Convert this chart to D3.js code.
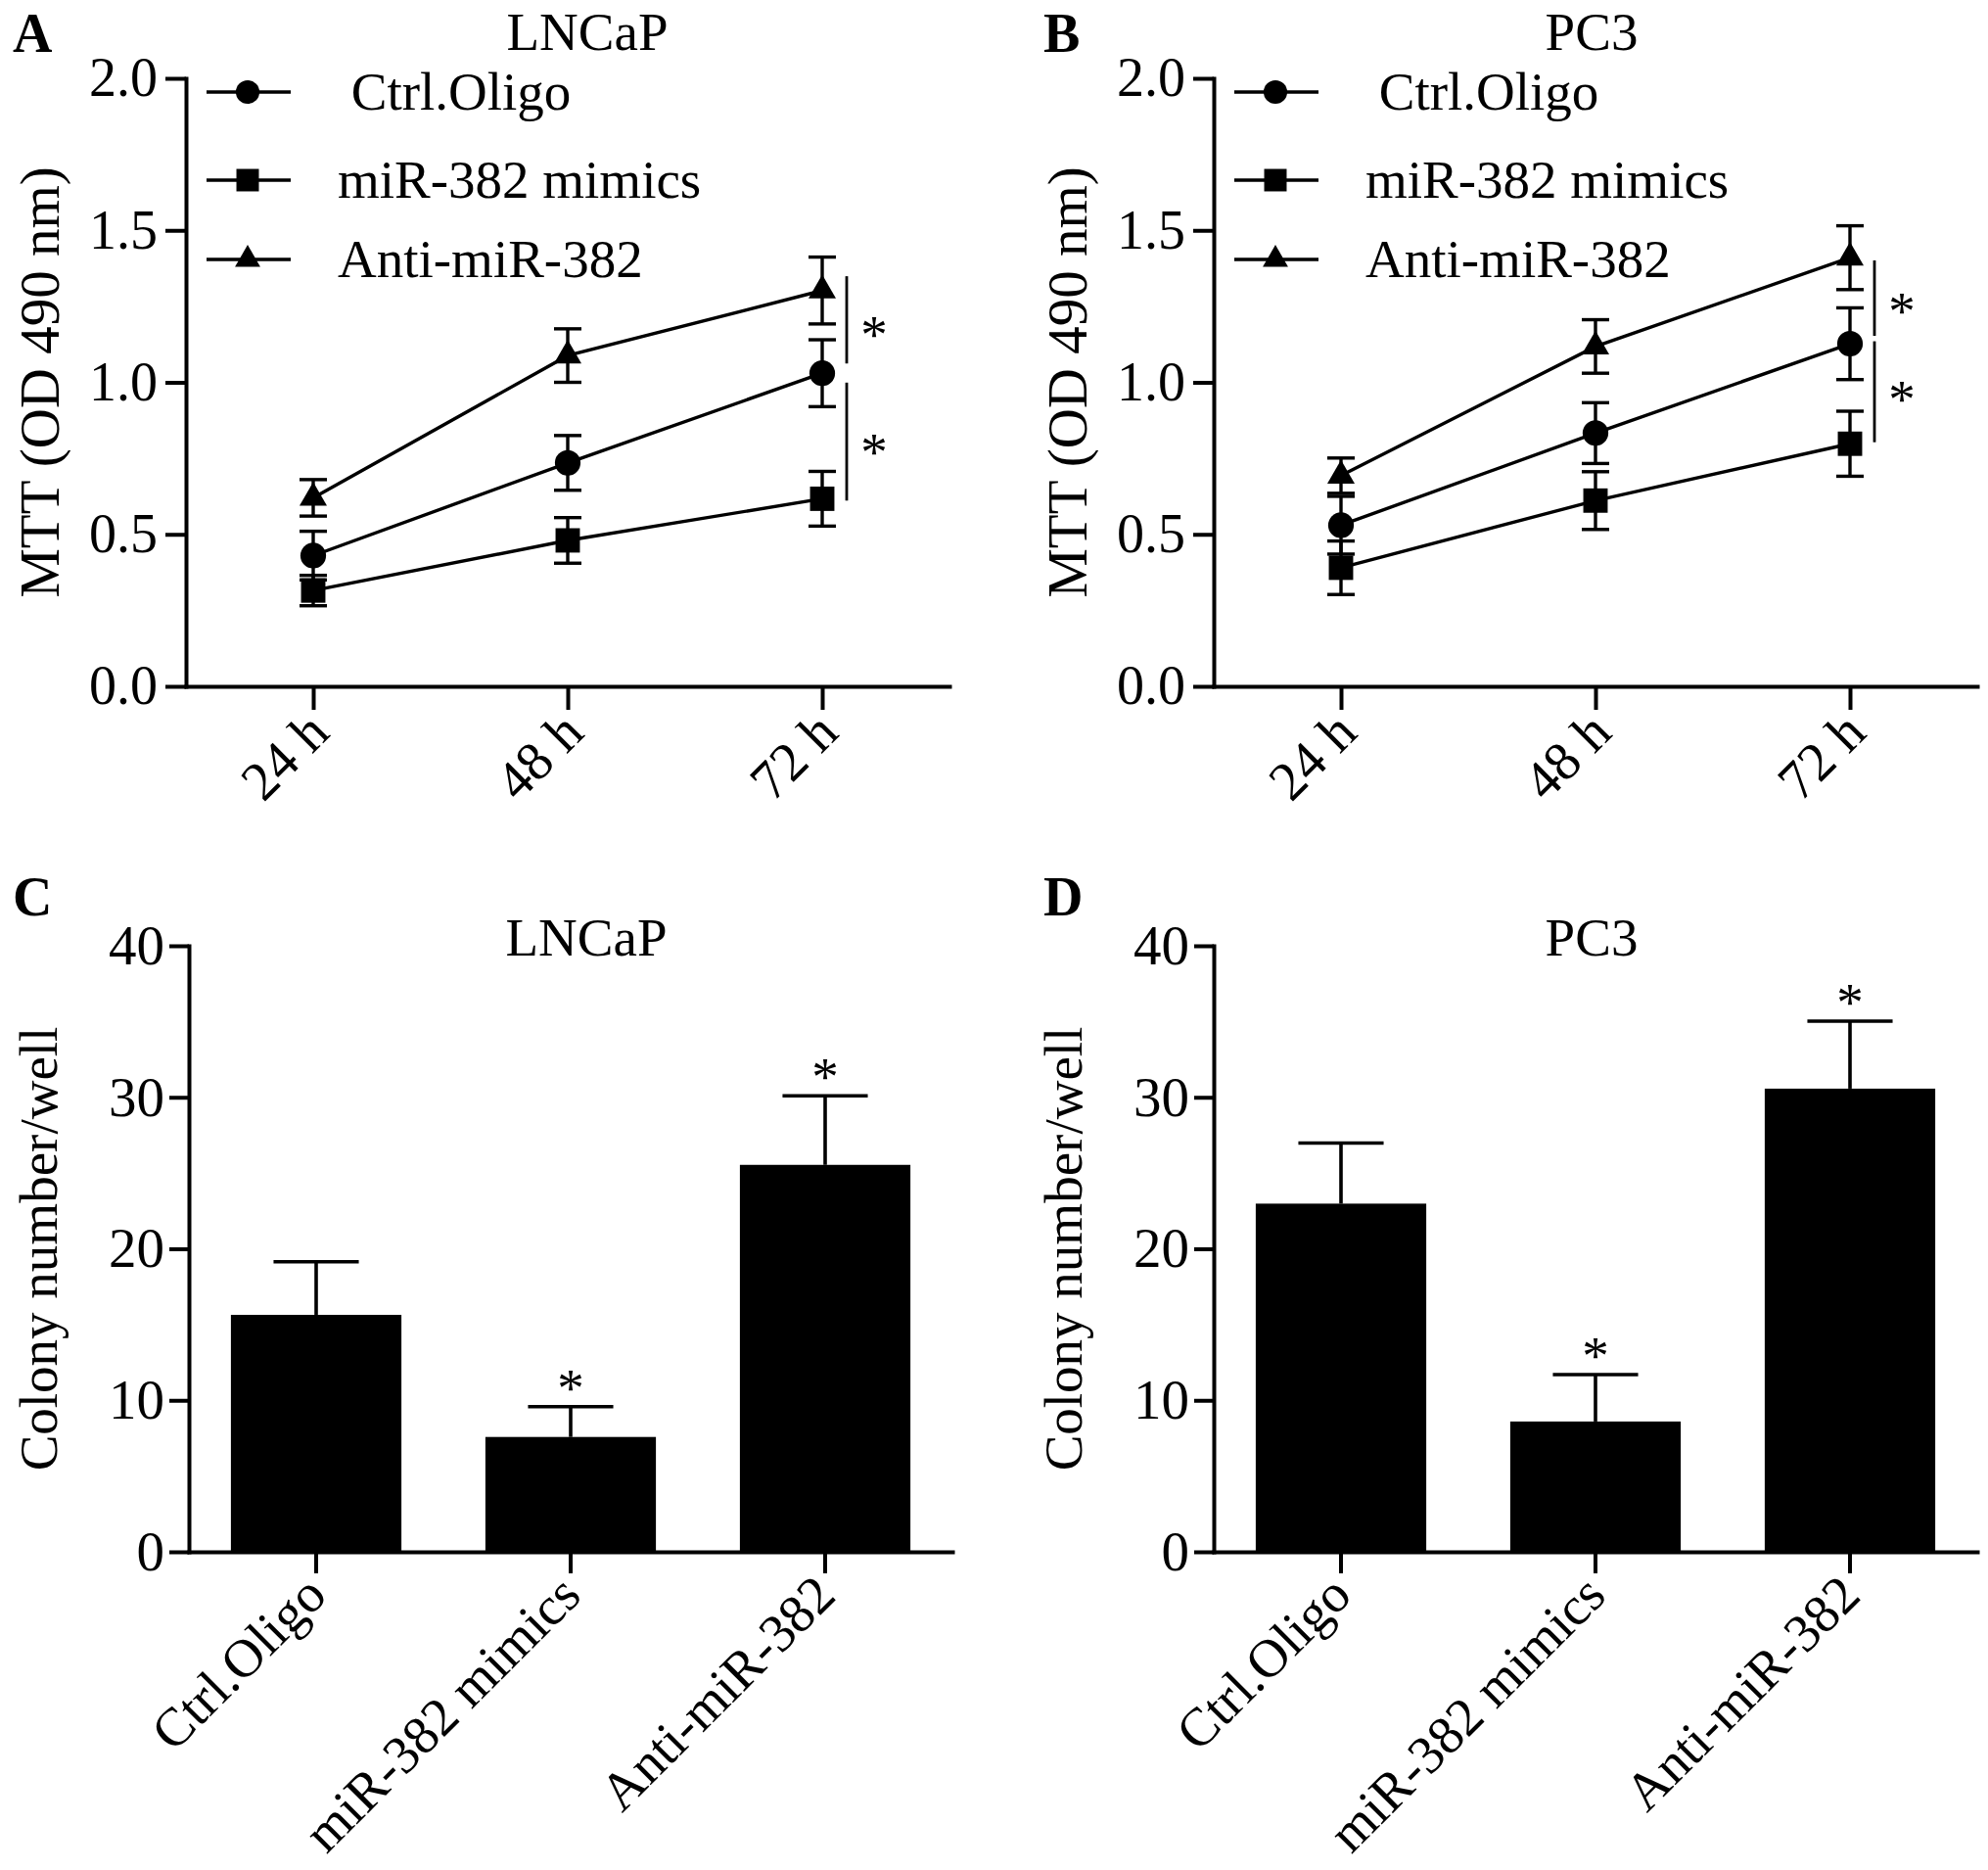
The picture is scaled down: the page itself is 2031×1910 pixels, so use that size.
<!DOCTYPE html>
<html>
<head>
<meta charset="utf-8">
<script src="https://cdn.jsdelivr.net/npm/d3@7"></script>
<style>
  html, body { margin: 0; padding: 0; background: #fff; }
  svg { display: block; font-family: "Liberation Serif", "Times New Roman", serif; }
</style>
</head>
<body>
<div id="chart"></div>
<script>
// ===== DATA =====
const timeLabels = ['24 h', '48 h', '72 h'];
const groupNames = ['Ctrl.Oligo', 'miR-382 mimics', 'Anti-miR-382'];
const mttTicks = [0, 0.5, 1.0, 1.5, 2.0];
const colonyTicks = [0, 10, 20, 30, 40];

// MTT (OD 490 nm) -- LNCaP
const lncapMttCtrl = [0.43, 0.735, 1.03];
const lncapMttCtrlErr = [0.08, 0.09, 0.11];
const lncapMttMimics = [0.315, 0.48, 0.617];
const lncapMttMimicsErr = [0.05, 0.075, 0.09];
const lncapMttAnti = [0.62, 1.088, 1.302];
const lncapMttAntiErr = [0.06, 0.088, 0.11];
// significance brackets at 72 h: [upper, lower] ends, and star levels
const lncapMttBrackets = [[1.349, 1.062], [0.999, 0.611]];
const lncapMttStars = [1.186, 0.80];

// MTT (OD 490 nm) -- PC3
const pc3MttCtrl = [0.53, 0.833, 1.127];
const pc3MttCtrlErr = [0.095, 0.1, 0.118];
const pc3MttMimics = [0.39, 0.611, 0.798];
const pc3MttMimicsErr = [0.088, 0.095, 0.107];
const pc3MttAnti = [0.693, 1.118, 1.41];
const pc3MttAntiErr = [0.058, 0.088, 0.105];
const pc3MttBrackets = [[1.401, 1.153], [1.135, 0.803]];
const pc3MttStars = [1.261, 0.973];

// Colony number/well
const lncapColony = [15.64, 7.58, 25.54];
const lncapColonyErr = [3.5, 2.0, 4.56];
const pc3Colony = [22.98, 8.6, 30.57];
const pc3ColonyErr = [4.0, 3.1, 4.45];
const colonyStarred = [false, true, true];

// ===== SETUP =====
const W = 2031, H = 1910;
const FONT = 55;
const svg = d3.select('#chart').append('svg')
    .attr('width', W).attr('height', H)
    .attr('viewBox', [0, 0, W, H]);
svg.append('rect').attr('width', W).attr('height', H).attr('fill', '#fff');

function styleAxis(sel, fontSize) {
    sel.select('.domain').attr('stroke', '#000').attr('stroke-width', 4).attr('stroke-linecap', 'square');
    sel.selectAll('.tick line').attr('stroke', '#000').attr('stroke-width', 4);
    sel.selectAll('.tick text').attr('fill', '#000').attr('font-size', fontSize);
    sel.attr('font-family', null);
}

function panelText(g, p, yLabel, yLabelOffset) {
    g.append('text')
        .attr('x', p.letterX).attr('y', p.letterY)
        .attr('font-size', 56).attr('font-weight', 700)
        .text(p.letter);
    g.append('text')
        .attr('x', p.titleX).attr('y', p.titleY)
        .attr('text-anchor', 'middle').attr('font-size', FONT)
        .text(p.title);
    g.append('text')
        .attr('transform', 'translate(' + (p.x0 - yLabelOffset) + ',' + ((p.yBottom + p.yTop) / 2) + ') rotate(-90)')
        .attr('text-anchor', 'middle').attr('font-size', p.yLabelSize)
        .text(yLabel);
}

// ---- MTT line panel ----
function linePanel(p) {
    const g = svg.append('g');
    const x = d3.scalePoint().domain(timeLabels).range([p.x0, p.x1]).padding(0.5);
    const y = d3.scaleLinear().domain([0, 2]).range([p.yBottom, p.yTop]);

    const ya = g.append('g').attr('transform', 'translate(' + p.x0 + ',0)')
        .call(d3.axisLeft(y).tickValues(mttTicks).tickFormat(d3.format('.1f'))
            .tickSize(21).tickSizeOuter(0).tickPadding(8));
    styleAxis(ya, 56);

    const xa = g.append('g').attr('transform', 'translate(0,' + p.yBottom + ')')
        .call(d3.axisBottom(x).tickSize(24).tickSizeOuter(0));
    styleAxis(xa, 56);
    xa.selectAll('.tick text')
        .attr('x', 0).attr('y', 0).attr('dy', 0)
        .attr('text-anchor', 'end')
        .attr('transform', 'translate(18,50) rotate(-45)');

    const series = [
        { name: groupNames[0], mean: p.ctrl, err: p.ctrlErr, type: d3.symbolCircle, size: 540 },
        { name: groupNames[1], mean: p.mimics, err: p.mimicsErr, type: d3.symbolSquare, size: 620 },
        { name: groupNames[2], mean: p.anti, err: p.antiErr, type: d3.symbolTriangle, size: 340 }
    ];

    const line = d3.line().x(function (d, i) { return x(timeLabels[i]); }).y(function (d) { return y(d); });

    series.forEach(function (s) {
        g.append('path').datum(s.mean).attr('d', line)
            .attr('fill', 'none').attr('stroke', '#000').attr('stroke-width', 3.4);
    });

    const capW = 14;
    series.forEach(function (s) {
        s.mean.forEach(function (m, i) {
            const cx = x(timeLabels[i]);
            const eg = g.append('g').attr('stroke', '#000').attr('stroke-width', 3.4);
            eg.append('line').attr('x1', cx).attr('x2', cx).attr('y1', y(m - s.err[i])).attr('y2', y(m + s.err[i]));
            eg.append('line').attr('x1', cx - capW).attr('x2', cx + capW).attr('y1', y(m + s.err[i])).attr('y2', y(m + s.err[i]));
            eg.append('line').attr('x1', cx - capW).attr('x2', cx + capW).attr('y1', y(m - s.err[i])).attr('y2', y(m - s.err[i]));
        });
    });

    series.forEach(function (s) {
        g.selectAll(null).data(s.mean).enter().append('path')
            .attr('d', d3.symbol().type(s.type).size(s.size))
            .attr('transform', function (d, i) { return 'translate(' + x(timeLabels[i]) + ',' + y(d) + ')'; })
            .attr('fill', '#000');
    });

    // significance brackets at the last time point
    const bx = x(timeLabels[2]) + 25;
    p.brackets.forEach(function (b) {
        g.append('line').attr('x1', bx).attr('x2', bx).attr('y1', y(b[0])).attr('y2', y(b[1]))
            .attr('stroke', '#000').attr('stroke-width', 2.8);
    });
    p.stars.forEach(function (v) {
        g.append('text').attr('x', bx + 28).attr('y', y(v) + 27)
            .attr('text-anchor', 'middle').attr('font-size', FONT).text('*');
    });

    // legend
    const rowY = [94, 184, 265];
    series.forEach(function (s, i) {
        const lg = g.append('g').attr('transform', 'translate(' + p.x0 + ',' + rowY[i] + ')');
        lg.append('line').attr('x1', 21).attr('x2', 107).attr('y1', 0).attr('y2', 0)
            .attr('stroke', '#000').attr('stroke-width', 3.4);
        lg.append('path').attr('d', d3.symbol().type(s.type).size(s.size * 0.85))
            .attr('transform', 'translate(63,0)').attr('fill', '#000');
        lg.append('text').attr('x', 155).attr('y', 18).attr('font-size', FONT)
            .style('white-space', 'pre')
            .text(i === 0 ? ' ' + s.name : s.name);
    });

    panelText(g, p, 'MTT (OD 490 nm)', 130);
}

// ---- colony bar panel ----
function barPanel(p) {
    const g = svg.append('g');
    const x = d3.scaleBand().domain(groupNames).range([p.x0, p.x1]).paddingInner(0.33).paddingOuter(0.165);
    const y = d3.scaleLinear().domain([0, 40]).range([p.yBottom, p.yTop]);
    const bw = x.bandwidth();

    g.selectAll('rect.bar').data(p.values).enter().append('rect')
        .attr('class', 'bar')
        .attr('x', function (d, i) { return x(groupNames[i]); })
        .attr('y', function (d) { return y(d); })
        .attr('width', bw)
        .attr('height', function (d) { return y(0) - y(d); })
        .attr('fill', '#000');

    p.values.forEach(function (v, i) {
        const cx = x(groupNames[i]) + bw / 2;
        const top = y(v + p.errors[i]);
        g.append('line').attr('x1', cx).attr('x2', cx).attr('y1', y(v)).attr('y2', top)
            .attr('stroke', '#000').attr('stroke-width', 3.6);
        g.append('line').attr('x1', cx - bw / 4).attr('x2', cx + bw / 4).attr('y1', top).attr('y2', top)
            .attr('stroke', '#000').attr('stroke-width', 3.6);
        if (colonyStarred[i]) {
            g.append('text').attr('x', cx).attr('y', top - 1)
                .attr('text-anchor', 'middle').attr('font-size', FONT).text('*');
        }
    });

    const ya = g.append('g').attr('transform', 'translate(' + p.x0 + ',0)')
        .call(d3.axisLeft(y).tickValues(colonyTicks).tickSize(20).tickSizeOuter(0).tickPadding(5));
    styleAxis(ya, 57);

    const xa = g.append('g').attr('transform', 'translate(0,' + p.yBottom + ')')
        .call(d3.axisBottom(x).tickSize(22).tickSizeOuter(0));
    styleAxis(xa, FONT);
    xa.selectAll('.tick text')
        .attr('x', 0).attr('y', 0).attr('dy', 0)
        .attr('text-anchor', 'end')
        .attr('transform', 'translate(13,47) rotate(-45)');

    panelText(g, p, 'Colony number/well', 135);
}

linePanel({
    letter: 'A', letterX: 13, letterY: 53, title: 'LNCaP', titleX: 600, titleY: 51,
    x0: 190, x1: 970, yBottom: 701, yTop: 80, yLabelSize: 57,
    ctrl: lncapMttCtrl, ctrlErr: lncapMttCtrlErr,
    mimics: lncapMttMimics, mimicsErr: lncapMttMimicsErr,
    anti: lncapMttAnti, antiErr: lncapMttAntiErr,
    brackets: lncapMttBrackets, stars: lncapMttStars
});
linePanel({
    letter: 'B', letterX: 1066, letterY: 53, title: 'PC3', titleX: 1626, titleY: 51,
    x0: 1240, x1: 2020, yBottom: 701, yTop: 80, yLabelSize: 57,
    ctrl: pc3MttCtrl, ctrlErr: pc3MttCtrlErr,
    mimics: pc3MttMimics, mimicsErr: pc3MttMimicsErr,
    anti: pc3MttAnti, antiErr: pc3MttAntiErr,
    brackets: pc3MttBrackets, stars: pc3MttStars
});
barPanel({
    letter: 'C', letterX: 13, letterY: 935, title: 'LNCaP', titleX: 599, titleY: 976,
    x0: 193, x1: 973, yBottom: 1585, yTop: 966, yLabelSize: FONT,
    values: lncapColony, errors: lncapColonyErr
});
barPanel({
    letter: 'D', letterX: 1066, letterY: 935, title: 'PC3', titleX: 1626, titleY: 976,
    x0: 1240, x1: 2020, yBottom: 1585, yTop: 966, yLabelSize: FONT,
    values: pc3Colony, errors: pc3ColonyErr
});
</script>
</body>
</html>
